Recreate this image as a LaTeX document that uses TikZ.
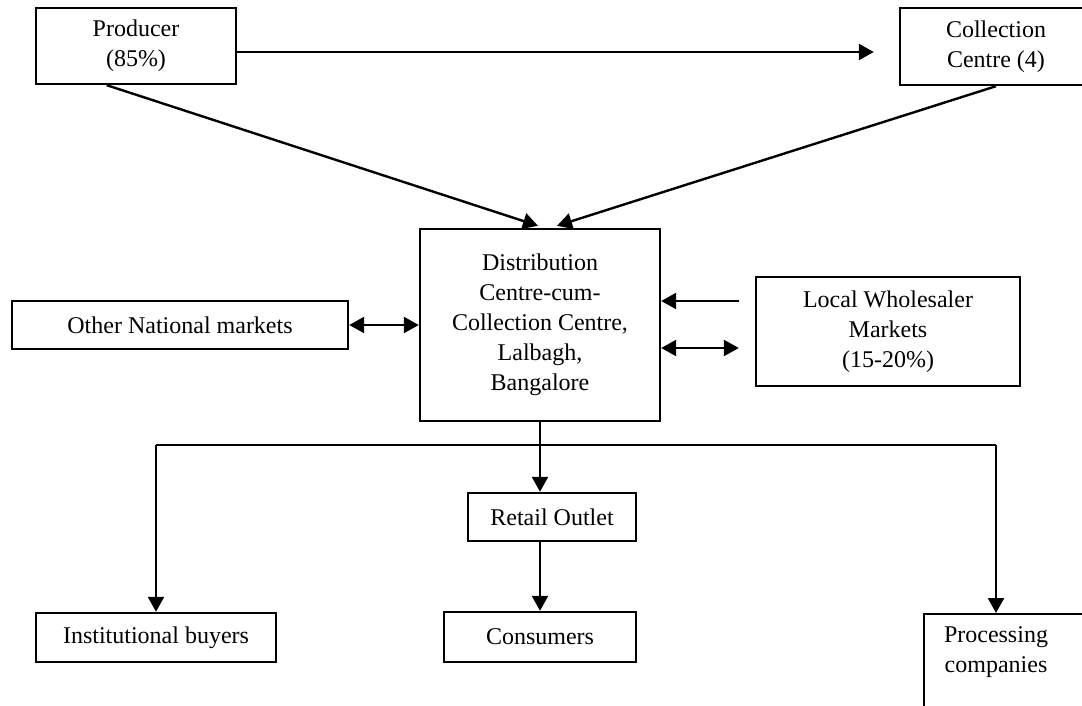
\documentclass[tikz,border=0pt]{standalone}
\usepackage{fontspec}
\setmainfont{Liberation Serif}
\usetikzlibrary{arrows.meta}
\tikzset{
  box/.style={draw, line width=1.2pt, inner sep=0pt, align=center, font=\fontsize{12}{15}\selectfont},
  txt/.style={inner sep=0pt, align=center, font=\fontsize{12}{15}\selectfont},
  arr/.style={line width=1.2pt, -{Triangle[length=7.5pt,width=8pt]}},
  darr/.style={line width=1.2pt, {Triangle[length=7.5pt,width=8pt]}-{Triangle[length=7.5pt,width=8pt]}},
  thinline/.style={line width=0.7pt}
}
\begin{document}
\begin{tikzpicture}[x=0.5pt,y=-0.5pt]
\useasboundingbox (0,0) rectangle (1082,706);
\clip (0,0) rectangle (1082,706);
% nodes
\node[box, minimum width=100pt, minimum height=38pt] (prod) at (136,46) {Producer\\(85\%)};
\node[box, minimum width=96pt, minimum height=38.5pt] (coll) at (996,46.5) {Collection\\Centre (4)};
\node[box, minimum width=120pt, minimum height=96pt] (dist) at (540,325) {Distribution\\Centre-cum-\\Collection Centre,\\Lalbagh,\\Bangalore};
\node[box, minimum width=168pt, minimum height=24pt] (other) at (180,325) {Other National markets};
\node[box, minimum width=132pt, minimum height=54.5pt] (local) at (888,331.5) {Local Wholesaler\\Markets\\(15-20\%)};
\node[box, minimum width=84pt, minimum height=24pt] (retail) at (552,517) {Retail Outlet};
\node[box, minimum width=120pt, minimum height=24.5pt] (inst) at (156,637.5) {Institutional buyers};
\node[box, minimum width=96pt, minimum height=25pt] (cons) at (540,637) {Consumers};
\node[draw, line width=1.2pt, minimum width=90pt, minimum height=80pt, inner sep=0pt, anchor=north west] (proc) at (923,613) {};
\node[txt] (proct) at (996,652) {Processing\\companies};
\coordinate (hl) at (540,445);
\coordinate (tl) at (0,52);
% connectors
\draw[arr] (prod.east |- tl) -- ([xshift=-12.5pt]coll.west |- tl);
\draw[arr] ([xshift=36pt]prod.south west) -- ([xshift=-1pt,yshift=1pt]dist.north);
\draw[arr] (coll.south) -- ([xshift=8.5pt,yshift=1pt]dist.north);
\draw[darr] (other.east) -- (dist.west);
\draw[arr] ([xshift=-8pt,yshift=15.25pt]local.west) coordinate (lw1) -- (dist.east |- lw1);
\draw[darr] (dist.east |- {0,348}) coordinate (lw2) -- ([xshift=-8pt,yshift=-8.25pt]local.west);
\draw[arr] (dist.south) -- (dist.south |- retail.north);
\draw[arr] (retail.south -| cons.north) -- (cons.north);
\draw[thinline] (inst.north |- hl) -- (proct |- hl);
\draw[arr] (inst.north |- hl) -- (inst.north);
\draw[arr] (proct |- hl) -- (proct |- proc.north);
\end{tikzpicture}
\end{document}
